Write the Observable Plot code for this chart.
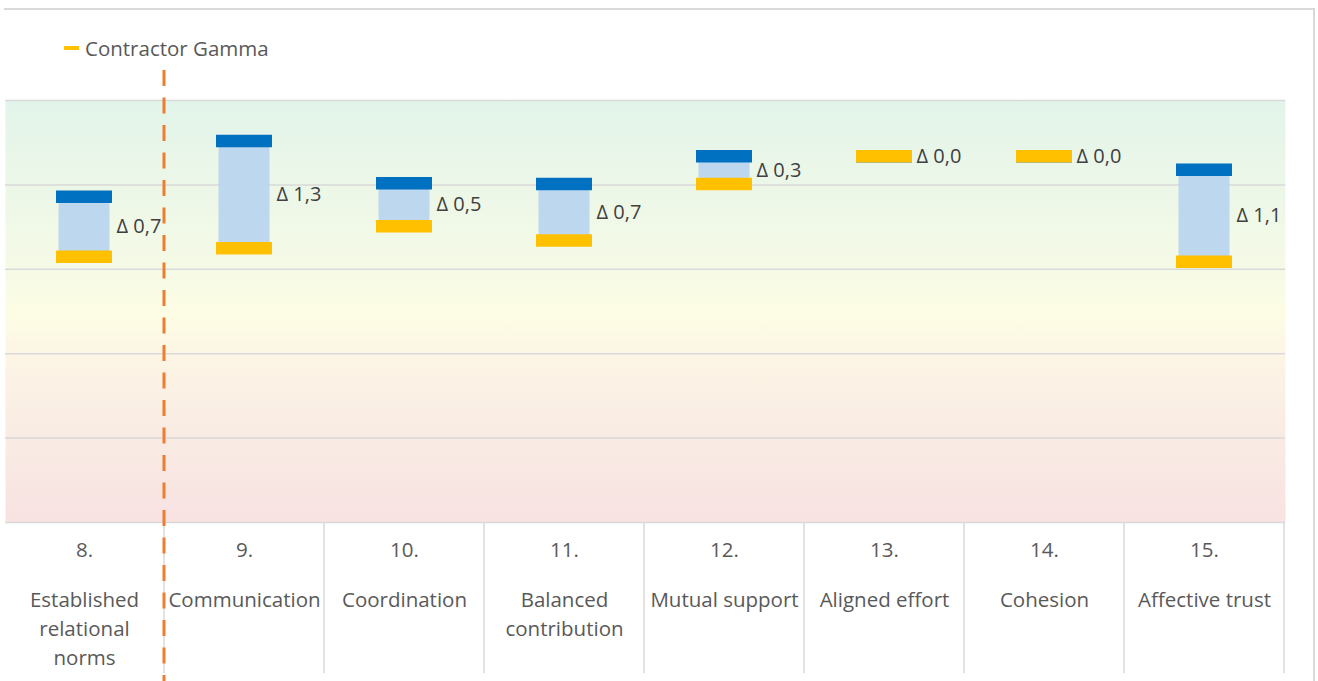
<!DOCTYPE html>
<html>
<head>
<meta charset="utf-8">
<script src="https://cdn.jsdelivr.net/npm/d3@7"></script>
<script src="https://cdn.jsdelivr.net/npm/@observablehq/plot@0.6"></script>
<style>
  html, body { margin: 0; padding: 0; background: #fff; }
  body { width: 1318px; height: 681px; position: relative; overflow: hidden; font-family: "Open Sans", sans-serif; }
  #frame { position: absolute; left: 4px; top: 8px; width: 1309px; height: 700px;
           border-top: 2px solid #d9d9d9; border-right: 2px solid #d9d9d9; }
  #legend { position: absolute; left: 64px; top: 34px; display: flex; align-items: center;
            font-size: 20.5px; color: #595959; }
  #legend .sw { width: 15px; height: 4px; background: #FFC000; margin-right: 6px; }
  #chart { position: absolute; left: 0; top: 62px; }
</style>
</head>
<body>
<div id="frame"></div>
<div id="legend"><span class="sw"></span><span>Contractor Gamma</span></div>
<div id="chart"></div>
<script>
// Dimension numbers and names
const categories = ["8.", "9.", "10.", "11.", "12.", "13.", "14.", "15."];
const names = [
  "Established\nrelational\nnorms",
  "Communication",
  "Coordination",
  "Balanced\ncontribution",
  "Mutual support",
  "Aligned effort",
  "Cohesion",
  "Affective trust"
];
// Scores per dimension
const gamma = [3.15, 3.25, 3.51, 3.34, 4.01, 4.34, 4.34, 3.09];      // Contractor Gamma
const reference = [3.86, 4.52, 4.02, 4.01, 4.34, 4.34, 4.34, 4.18];  // comparison score
const gridValues = [0, 1, 2, 3, 4, 5];

const rows = categories.map((c, i) => ({
  cat: c,
  name: names[i],
  gamma: gamma[i],
  ref: reference[i],
  delta: Math.abs(reference[i] - gamma[i])
}));

const W = 1318, H = 619;
const font = "Open Sans, sans-serif";

const chart = Plot.plot({
  width: W,
  height: H,
  marginLeft: 2,
  marginRight: 33,
  marginTop: 38,
  marginBottom: 159,
  style: { fontFamily: font, background: "transparent", overflow: "visible" },
  x: { domain: categories, padding: 0, axis: null },
  y: { domain: [0, 5], axis: null },
  marks: [
    Plot.frame({ fill: "url(#bandFill)", stroke: "none", insetLeft: 3 }),
    Plot.ruleY(gridValues, { stroke: "#d9d9d9", strokeWidth: 1.5, insetLeft: 3 }),
    // span between the two scores
    Plot.barY(rows, { x: "cat", y1: "gamma", y2: "ref", fill: "#BDD7EE", insetLeft: 54.5, insetRight: 54.5 }),
    Plot.tickY(rows, { x: "cat", y: "ref", stroke: "#0070C0", strokeWidth: 12.5, inset: 52 }),
    Plot.tickY(rows, { x: "cat", y: "gamma", stroke: "#FFC000", strokeWidth: 12.5, inset: 52 }),
    Plot.text(rows, {
      x: "cat", y: d => (d.gamma + d.ref) / 2,
      text: d => "Δ " + d.delta.toFixed(1).replace(".", ","),
      dx: 32, textAnchor: "start", fontSize: 20, fill: "#404040"
    }),
    // category labels below the plot
    Plot.text(rows, { x: "cat", frameAnchor: "bottom", text: "cat", dy: 28, lineAnchor: "middle", fontSize: 20.5, fill: "#595959" }),
    Plot.text(rows, { x: "cat", frameAnchor: "bottom", text: "name", dy: 64, lineAnchor: "top", lineHeight: 1.42, fontSize: 20.5, fill: "#595959" })
  ]
});

document.getElementById("chart").appendChild(chart);

const svg = d3.select(chart);
const xs = chart.scale("x");
const ys = chart.scale("y");
const plotTop = ys.apply(5), plotBottom = ys.apply(0);

// vertical background gradient: green at the top, yellow in the middle, red at the bottom
const grad = svg.insert("defs", ":first-child").append("linearGradient")
  .attr("id", "bandFill").attr("x1", 0).attr("y1", 0).attr("x2", 0).attr("y2", 1);
[[0, "#e2f4ea"], [0.2, "#ecf7e8"], [0.4, "#f5fae6"], [0.5, "#fdfde4"], [0.6, "#fcf5e5"], [0.8, "#f9ebe3"], [1, "#f8e2e2"]]
  .forEach(([o, c]) => grad.append("stop").attr("offset", o).attr("stop-color", c));

// separators between the category labels
svg.append("g").selectAll("line").data(categories).join("line")
  .attr("x1", d => xs.apply(d) + xs.bandwidth).attr("x2", d => xs.apply(d) + xs.bandwidth)
  .attr("y1", plotBottom).attr("y2", plotBottom + 151)
  .attr("stroke", "#d9d9d9").attr("stroke-width", 1.5);

// dashed divider after the first dimension
const xd = xs.apply(categories[1]);
svg.append("line")
  .attr("x1", xd).attr("x2", xd)
  .attr("y1", plotTop - 30).attr("y2", H)
  .attr("stroke", "#ED7D31").attr("stroke-width", 3)
  .attr("stroke-dasharray", "16 11.5");
</script>
</body>
</html>
